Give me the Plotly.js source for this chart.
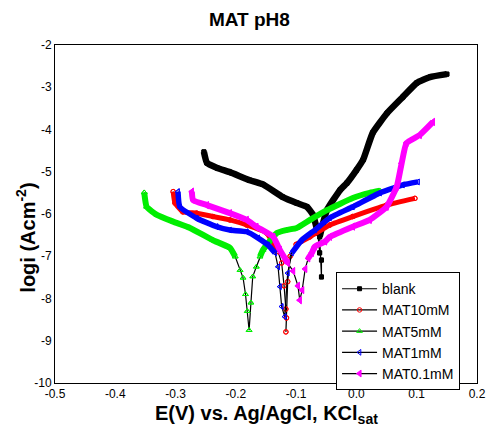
<!DOCTYPE html>
<html>
<head>
<meta charset="utf-8">
<script src="https://cdn.plot.ly/plotly-3.0.1.min.js"></script>
<style>html,body{margin:0;padding:0;background:#fff;}#chart{width:487px;height:427px;}</style>
</head>
<body>
<div id="chart"></div>
<script>
// ---- data ----
var seriesNames = ['blank', 'MAT10mM', 'MAT5mM', 'MAT1mM', 'MAT0.1mM'];

var blankE   = [-0.253,-0.248,-0.231,-0.210,-0.177,-0.155,-0.122,-0.099,-0.082,-0.072,-0.064,-0.061,-0.058,-0.058,-0.061,-0.049,-0.027,-0.016,0.000,0.011,0.027,0.051,0.077,0.100,0.122,0.150];
var blankLog = [-4.53,-4.79,-4.91,-5.01,-5.20,-5.30,-5.60,-5.74,-5.83,-6.02,-6.45,-6.92,-7.09,-7.49,-6.54,-5.91,-5.43,-5.27,-4.96,-4.72,-4.08,-3.61,-3.23,-2.90,-2.76,-2.69];

var mat10E   = [-0.304,-0.301,-0.288,-0.265,-0.238,-0.210,-0.182,-0.149,-0.130,-0.124,-0.120,-0.117,-0.116,-0.117,-0.114,-0.110,-0.100,-0.077,-0.044,-0.006,0.050,0.097];
var mat10Log = [-5.47,-5.74,-5.95,-5.98,-6.06,-6.14,-6.26,-6.45,-6.89,-7.16,-7.70,-8.25,-8.46,-8.79,-7.60,-7.00,-6.72,-6.54,-6.26,-6.06,-5.79,-5.63];

var mat5E    = [-0.352,-0.348,-0.331,-0.304,-0.276,-0.238,-0.210,-0.201,-0.193,-0.188,-0.184,-0.181,-0.178,-0.175,-0.172,-0.166,-0.160,-0.155,-0.132,-0.116,-0.099,-0.077,-0.049,-0.006,0.022,0.039];
var mat5Log  = [-5.49,-5.83,-6.02,-6.18,-6.33,-6.62,-6.80,-7.01,-7.33,-7.51,-7.90,-8.30,-8.75,-8.10,-7.48,-7.25,-7.01,-6.85,-6.45,-6.38,-6.33,-6.14,-5.91,-5.62,-5.50,-5.45];

var mat1E    = [-0.296,-0.293,-0.265,-0.232,-0.210,-0.182,-0.163,-0.147,-0.135,-0.130,-0.127,-0.124,-0.119,-0.114,-0.107,-0.091,-0.069,-0.044,-0.006,0.039,0.077,0.102];
var mat1Log  = [-5.47,-5.83,-6.10,-6.30,-6.38,-6.42,-6.57,-6.73,-6.92,-7.25,-7.72,-8.19,-8.43,-7.40,-6.92,-6.62,-6.38,-6.09,-5.83,-5.50,-5.31,-5.24];

var mat01E   = [-0.273,-0.271,-0.248,-0.210,-0.182,-0.166,-0.138,-0.127,-0.114,-0.105,-0.097,-0.094,-0.090,-0.085,-0.080,-0.074,-0.069,-0.052,-0.044,-0.006,0.022,0.050,0.067,0.075,0.083,0.105,0.127];
var mat01Log = [-5.47,-5.67,-5.79,-5.98,-6.14,-6.30,-6.54,-6.85,-7.16,-7.35,-7.70,-8.04,-7.80,-7.30,-7.05,-6.92,-6.77,-6.65,-6.54,-6.30,-6.14,-5.83,-5.35,-4.80,-4.32,-4.13,-3.82];

var xTickVals = [-0.5,-0.4,-0.3,-0.2,-0.1,0.0,0.1,0.2];
var xTickText = ['-0.5','-0.4','-0.3','-0.2','-0.1','0.0','0.1','0.2'];
var yTickVals = [-10,-9,-8,-7,-6,-5,-4,-3,-2];
var yTickText = ['-10','-9','-8','-7','-6','-5','-4','-3','-2'];

// ---- styling ----
var xs = [blankE, mat10E, mat5E, mat1E, mat01E];
var ys = [blankLog, mat10Log, mat5Log, mat1Log, mat01Log];
var colors = ['#000000', '#ff0000', '#00ee00', '#0000ff', '#ff00ff'];
var symbols = ['square', 'circle-open', 'triangle-up-open', 'triangle-left-open', 'triangle-left'];
var msizes = [4, 4.5, 5, 5, 6];
var bandW = [6.5, 5, 6, 5.5, 6];
var sparseBelow = [-6.6, -6.95, -7.05, -7.0, -7.2];

var FONT = 'Liberation Sans, Arial, Helvetica, sans-serif';
var traces = [];
for (var i = 0; i < seriesNames.length; i++) {
  var mk = {symbol: symbols[i], size: msizes[i], color: colors[i], line: {color: colors[i], width: 1}};
  traces.push({
    x: xs[i], y: ys[i], name: seriesNames[i], type: 'scatter', mode: 'lines+markers',
    line: {color: '#000', width: 1.2}, marker: mk, showlegend: true
  });
  var thr = sparseBelow[i];
  var bandY = ys[i].map(function (v) { return v < thr ? null : v; });
  traces.push({
    x: xs[i], y: bandY, type: 'scatter', mode: 'lines', showlegend: false, connectgaps: false,
    line: {color: colors[i], width: bandW[i], shape: 'spline', smoothing: 0.4}, hoverinfo: 'skip'
  });
  traces.push({
    x: xs[i], y: ys[i], type: 'scatter', mode: 'markers', showlegend: false,
    marker: mk, hoverinfo: 'skip'
  });
}

var layout = {
  width: 487, height: 427,
  margin: {l: 55, r: 10, t: 45, b: 44, pad: 0},
  paper_bgcolor: '#fff', plot_bgcolor: '#fff',
  font: {family: FONT, color: '#000', size: 12},
  showlegend: true,
  title: {text: '<b>MAT pH8</b>', font: {family: FONT, size: 19, color: '#000'},
          x: 0.512, xref: 'container', xanchor: 'center', y: 0.954, yref: 'container', yanchor: 'middle'},
  xaxis: {range: [-0.5, 0.2], tickvals: xTickVals, ticktext: xTickText, ticks: '',
          showline: true, mirror: true, linecolor: '#000', linewidth: 1,
          showgrid: false, zeroline: false, tickfont: {family: FONT, size: 12, color: '#000'}},
  yaxis: {range: [-10, -2], tickvals: yTickVals, ticktext: yTickText, ticks: '',
          showline: true, mirror: true, linecolor: '#000', linewidth: 1,
          showgrid: false, zeroline: false, tickfont: {family: FONT, size: 12, color: '#000'}},
  legend: {x: 0.666, xanchor: 'left', y: 0.328, yanchor: 'top', bgcolor: '#fff',
           bordercolor: '#000', borderwidth: 1, font: {family: FONT, size: 14, color: '#000'},
           itemwidth: 35, tracegroupgap: 0},
  annotations: [
    {text: '<b>E(V) vs. Ag/AgCl, KCl<sub>sat</sub></b>', xref: 'paper', yref: 'paper',
     x: 0.5, y: -0.092, xanchor: 'center', yanchor: 'middle', showarrow: false,
     font: {family: FONT, size: 20, color: '#000'}},
    {text: '<b>logi (Acm<sup>-2</sup>)</b>', xref: 'paper', yref: 'paper', textangle: -90,
     x: -0.0687, y: 0.43, xanchor: 'center', yanchor: 'middle', showarrow: false,
     font: {family: FONT, size: 20, color: '#000'}}
  ]
};

Plotly.newPlot('chart', traces, layout, {displayModeBar: false, staticPlot: true});
</script>
</body>
</html>
